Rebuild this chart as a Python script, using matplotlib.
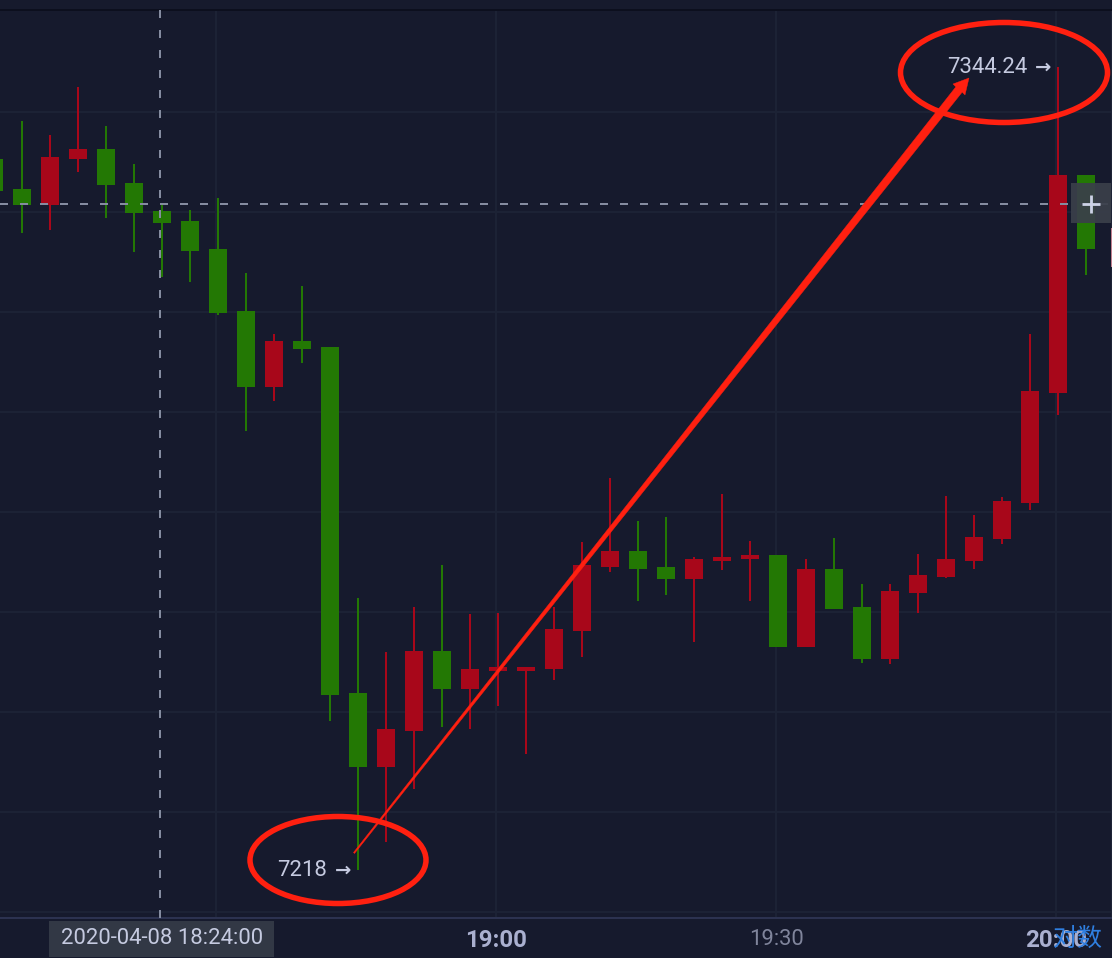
import matplotlib
matplotlib.use('Agg')
import matplotlib.pyplot as plt
from matplotlib.patches import Ellipse, Polygon, Rectangle
import numpy as np

plt.rcParams['font.family'] = ['Roboto', 'DejaVu Sans']

# 3 minute candles, minutes counted from 18:00
minutes = np.arange(6, 126, 3)
opens = [7329.77, 7325.05, 7322.54, 7329.77, 7331.34, 7326.00, 7321.59, 7320.02, 7315.62, 7305.87,
         7293.93, 7301.16, 7300.22, 7245.82, 7234.19, 7239.85, 7252.43, 7246.45, 7249.28, 7249.28,
         7249.60, 7255.57, 7265.63, 7268.15, 7265.63, 7263.75, 7266.57, 7266.89, 7267.52, 7253.06,
         7265.32, 7259.34, 7251.17, 7261.54, 7264.06, 7266.57, 7270.03, 7275.69, 7292.98, 7327.25]
closes = [7324.74, 7322.54, 7330.08, 7331.34, 7325.68, 7321.28, 7319.71, 7315.31, 7305.56, 7293.93,
          7301.16, 7299.90, 7245.51, 7234.19, 7240.17, 7252.43, 7246.45, 7249.60, 7249.91, 7249.91,
          7255.89, 7265.95, 7268.15, 7265.32, 7263.75, 7266.89, 7267.20, 7267.52, 7253.06, 7265.32,
          7259.03, 7251.17, 7261.86, 7264.37, 7266.89, 7270.35, 7276.01, 7293.30, 7327.25, 7315.62]
highs = [7329.77, 7335.74, 7333.54, 7341.09, 7334.96, 7328.98, 7322.46, 7321.75, 7323.64, 7311.85,
         7302.26, 7309.80, 7300.22, 7260.76, 7252.27, 7259.34, 7265.95, 7258.24, 7258.40, 7249.91,
         7259.34, 7269.56, 7279.62, 7272.86, 7273.49, 7267.20, 7277.11, 7269.72, 7267.52, 7266.89,
         7270.19, 7262.96, 7262.96, 7267.68, 7276.79, 7273.81, 7276.64, 7302.26, 7344.24, 7327.25]
lows = [7324.74, 7318.14, 7318.61, 7327.73, 7320.49, 7315.15, 7311.22, 7310.43, 7305.25, 7287.01,
        7291.73, 7297.70, 7241.42, 7218.00, 7222.40, 7230.73, 7240.48, 7240.17, 7243.78, 7236.24,
        7247.87, 7251.48, 7264.85, 7260.29, 7261.23, 7253.84, 7265.16, 7260.29, 7253.06, 7253.06,
        7259.03, 7250.54, 7250.38, 7258.40, 7263.90, 7265.32, 7269.25, 7274.59, 7289.53, 7311.53]

# chart levels and labels
grid_prices = [7211.4, 7227.1, 7242.8, 7258.6, 7274.3, 7290.0, 7305.7, 7321.5, 7337.2]
grid_minutes = [30, 60, 90, 120]
tick_labels = ['', '19:00', '19:30', '20:00']
cross_minute = 24
cross_price = 7322.7
min_label = '7218'
max_label = '7344.24'
time_label = '2020-04-08 18:24:00'

BG = '#161a2d'
UP = '#a8071a'
DOWN = '#237804'
GRID = '#1c2235'
CROSS = '#858ca0'
TEXT = '#c5cae0'
MARK = '#ff2010'
px = 0.72  # one pixel in points at dpi 100

fig = plt.figure(figsize=(11.12, 9.58), dpi=100, facecolor=BG)
ax = fig.add_axes([0, 1 - 917.5 / 958, 1, (917.5 - 10) / 958], facecolor=BG)
ax.set_xlim(6.857, 126)
ax.set_ylim(7210.53, 7353.19)

for spine in ['left', 'right']:
    ax.spines[spine].set_visible(False)
ax.spines['top'].set_color('#0c0f1e')
ax.spines['top'].set_linewidth(2 * px)
ax.spines['bottom'].set_color('#2c3250')
ax.spines['bottom'].set_linewidth(2 * px)

ax.set_yticks(grid_prices)
ax.set_xticks(grid_minutes)
ax.set_xticklabels(tick_labels)
ax.tick_params(length=0, labelleft=False)
ax.tick_params(axis='x', pad=8, labelsize=15.6)
ax.grid(True, color=GRID, linewidth=2 * px)
ax.set_axisbelow(True)
for lab, weight, col, size in zip(ax.get_xticklabels(), ['normal', 'bold', 'normal', 'bold'],
                                  ['#aab0d0', '#aab0d0', '#80859c', '#aab0d0'], [15.6, 17.4, 15.8, 17.4]):
    lab.set_fontweight(weight)
    lab.set_color(col)
    lab.set_fontsize(size)

# candles sit 2 px to the right of their time
x = minutes + 0.21
o = np.array(opens)
c = np.array(closes)
colors = [UP if b >= a else DOWN for a, b in zip(o, c)]
ax.vlines(x, lows, highs, colors=colors, linewidth=2 * px, zorder=3)
ax.bar(x, np.abs(c - o), bottom=np.minimum(o, c), width=1.93, color=colors, linewidth=0, zorder=3)

# crosshair
dash = (0, (8 / 2, 12 / 2))
ax.axvline(cross_minute, color=CROSS, linewidth=2 * px, linestyle=dash, zorder=4)
ax.axhline(cross_price, color=CROSS, linewidth=2 * px, linestyle=dash, zorder=4)

# overlay in pixel coords for the hand drawn marks and the labels
top = fig.add_axes([0, 0, 1, 1], facecolor='none')
top.set_xlim(0, 1112)
top.set_ylim(958, 0)
top.axis('off')

top.add_patch(Rectangle((1110.5, 11), 1, 906, color='#1e2436', linewidth=0))
top.add_patch(Rectangle((1071, 183), 40, 40, color='#3a3f4a', alpha=0.93, linewidth=0, zorder=3))
top.plot([1082, 1100], [204, 204], color='#cdd2e6', linewidth=2.8 * px, zorder=4, solid_capstyle='butt')
top.plot([1091, 1091], [195, 213], color='#cdd2e6', linewidth=2.8 * px, zorder=4, solid_capstyle='butt')
top.add_patch(Rectangle((1110.5, 228), 1.5, 39, color='#c08090', linewidth=0))

top.text(987, 67.5, max_label, color=TEXT, fontsize=15.9, ha='center', va='center')
top.text(1043.5, 67, '→', color=TEXT, fontsize=14, fontweight='bold', family='DejaVu Sans', ha='center', va='center')
top.text(302.5, 870, min_label, color=TEXT, fontsize=15.9, ha='center', va='center')
top.text(343.5, 870, '→', color=TEXT, fontsize=14, fontweight='bold', family='DejaVu Sans', ha='center', va='center')

top.add_patch(Rectangle((49, 921), 225, 36, color='#323845', linewidth=0))
top.text(162, 938.5, time_label, color=TEXT, fontsize=15.9, ha='center', va='center')
top.text(1077.5, 939, '对数', color='#2f7fe0', fontsize=18, ha='center', va='center',
         family=['Noto Sans CJK SC', 'DejaVu Sans'])

top.add_patch(Ellipse((1004, 72.5), 207, 100, fill=False, edgecolor=MARK, linewidth=5.5 * px, zorder=5))
top.add_patch(Ellipse((338, 860), 176, 87, fill=False, edgecolor=MARK, linewidth=5.5 * px, zorder=5))
top.add_patch(Polygon([(353.5, 852.5), (955.8, 86.9), (953, 84), (969, 78), (965, 95), (962.2, 92.1), (354.5, 853.5)],
                      closed=True, facecolor=MARK, edgecolor=MARK, linewidth=0.3, zorder=5))

fig.savefig('out.png', dpi=100, facecolor=BG)
